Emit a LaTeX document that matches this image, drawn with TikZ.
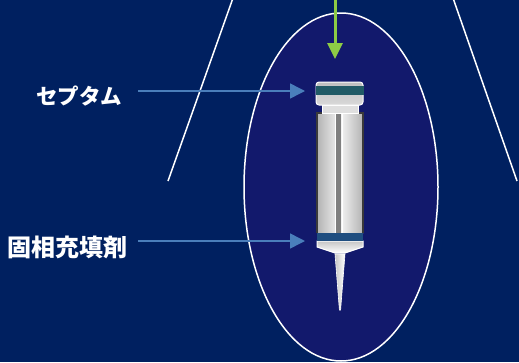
\documentclass[tikz,border=0pt]{standalone}
\usepackage{fontspec}
\newfontfamily\jp{Noto Sans CJK JP}
\usetikzlibrary{arrows.meta}
\definecolor{bgnavy}{HTML}{002060}
\definecolor{ovalfill}{HTML}{12196C}
\definecolor{callout}{HTML}{4A7EBB}
\definecolor{feed}{HTML}{8DCC45}
\definecolor{septumband}{HTML}{215B66}
\definecolor{packing}{HTML}{1F4E80}
\definecolor{rim}{HTML}{3A3A3A}
\tikzset{
  guide/.style={white, line width=1.5pt},
  label/.style={text=white, font=\jp\bfseries, inner sep=0pt},
  pointer/.style={callout, line width=1.5pt, -{Triangle[length=15pt,width=15pt]}},
  feedarrow/.style={feed, line width=3pt, -{Triangle[length=16pt,width=15pt]}},
  outline/.style={draw=white, line width=1pt}
}
\begin{document}
\begin{tikzpicture}[x=1pt,y=-1pt]
\fill[bgnavy] (0,0) rectangle (519,362);
\useasboundingbox (0,0) rectangle (519,362);

% sight lines
\draw[guide] (233,-2) -- (168,181);
\draw[guide] (453,-2) -- (517,181);

% oval field
\draw[guide, fill=ovalfill] (341,187) ellipse [x radius=97, y radius=174];

% needle
\shade[left color=gray!45, right color=white, draw=white, line width=0.6pt]
  (335,254) -- (345,254) -- (340.6,310) -- (339.4,310) -- cycle;

% hub below the packing
\shade[top color=gray!45, bottom color=white, draw=white, line width=1pt]
  (317,241) -- (363,241) -- (363,247) -- (345,253) -- (335,253) -- (317,247) -- cycle;

% barrel
\shade[left color=gray!60, right color=gray!60, middle color=white!92!gray]
  (317,113) rectangle (363,233);
\draw[rim, line width=1.5pt] (317,233) -- (317,113) -- (363,113) -- (363,233);

% plunger rod
\fill[gray] (336,113) rectangle (341,233);
\draw[white, line width=1pt] (335,113) -- (335,233) (342,113) -- (342,233);

% packing band
\fill[packing] (317,233) rectangle (363,241);

% neck
\fill[gray!25, outline] (322,105) rectangle (358,113);

% cap with septum
\shade[top color=gray!50, bottom color=gray!30, outline, rounded corners=3pt]
  (316,82) rectangle (363,105);
\fill[septumband] (315.5,86) rectangle (363.5,95);

% labels
\node[label, font=\jp\bfseries\fontsize{21.5}{21.5}\selectfont] (septumlabel) at (79,96) {セプタム};
\node[label, font=\jp\bfseries\fontsize{24}{24}\selectfont] (packinglabel) at (67.5,247) {固相充填剤};

% arrows
\coordinate (septumfrom) at (138,91);
\coordinate (septumto) at (305,91);
\coordinate (packingfrom) at (138,241);
\coordinate (packingto) at (305,241);
\coordinate (feedfrom) at (335,-2);
\coordinate (feedto) at (335,59);
\draw[pointer] (septumfrom) -- (septumto);
\draw[pointer] (packingfrom) -- (packingto);
\draw[feedarrow] (feedfrom) -- (feedto);
\end{tikzpicture}
\end{document}
